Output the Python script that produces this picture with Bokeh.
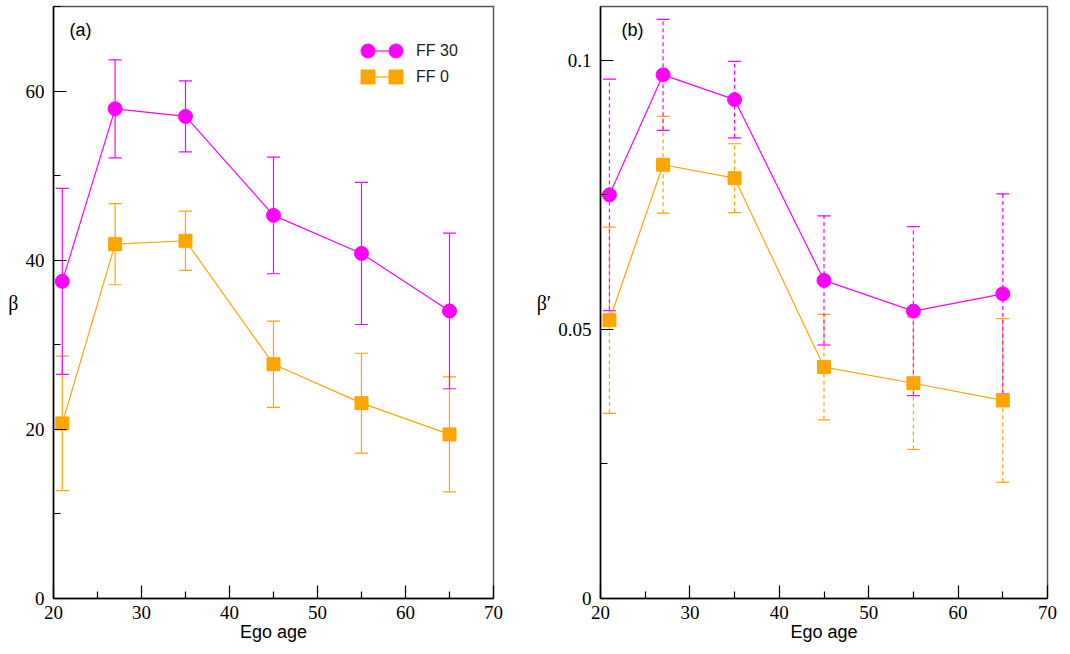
from bokeh.plotting import figure
from bokeh.layouts import row
from bokeh.models import (ColumnDataSource, Whisker, TeeHead, FixedTicker, Legend,
                          LegendItem, Label, Range1d)
from bokeh.embed import file_html
from bokeh.resources import INLINE

# ---------------- data ----------------
ages = [21, 27, 35, 45, 55, 65]

# panel (a): beta
a_ff30 = [37.5, 57.9, 57.0, 45.3, 40.8, 34.0]
a_ff30_err = [11.0, 5.8, 4.2, 6.9, 8.4, 9.2]
a_ff0 = [20.7, 41.9, 42.3, 27.7, 23.1, 19.4]
a_ff0_err = [7.95, 4.8, 3.5, 5.1, 5.9, 6.8]

# panel (b): beta'
b_ff30 = [0.0750, 0.0973, 0.0927, 0.0591, 0.0534, 0.0566]
b_ff30_err = [0.0215, 0.0103, 0.0071, 0.0120, 0.0157, 0.0186]
b_ff0 = [0.0517, 0.0806, 0.0781, 0.0430, 0.0400, 0.0368]
b_ff0_err = [0.0173, 0.0090, 0.0064, 0.0098, 0.0123, 0.0152]

x_major = [20, 30, 40, 50, 60, 70]
x_minor = [25, 35, 45, 55, 65]
a_y_major = [0, 20, 40, 60]
a_y_minor = [10, 30, 50, 70]
b_y_major = [0, 0.05, 0.1]
b_y_minor = [0.025, 0.075]
b_y_labels = {0: "0", 0.05: "0.05", 0.1: "0.1"}

series_labels = ["FF 30", "FF 0"]

MAGENTA = "#ff00ff"
ORANGE = "#ffa500"
SERIF = "Liberation Serif"
SANS = "Liberation Sans"


def style_axes(p, yticks, yminor, ylabel):
    p.xaxis.ticker = FixedTicker(ticks=x_major, minor_ticks=x_minor)
    p.yaxis.ticker = FixedTicker(ticks=yticks, minor_ticks=yminor)
    for ax in (p.xaxis[0], p.yaxis[0]):
        ax.major_tick_in = 13
        ax.major_tick_out = 0
        ax.minor_tick_in = 7
        ax.minor_tick_out = 0
        ax.axis_line_width = 1.5
        ax.axis_line_color = "black"
        ax.major_tick_line_color = "black"
        ax.minor_tick_line_color = "black"
        ax.major_tick_line_width = 1.2
        ax.minor_tick_line_width = 1.2
        ax.major_label_text_font = SERIF
        ax.major_label_text_font_size = "19px"
        ax.major_label_text_color = "black"
    p.xaxis.axis_label = "Ego age"
    p.xaxis.axis_label_text_font = SANS
    p.xaxis.axis_label_text_font_size = "18px"
    p.xaxis.axis_label_text_font_style = "normal"
    p.xaxis.axis_label_text_color = "black"
    p.xaxis.major_label_standoff = 7
    p.xaxis.axis_label_standoff = 0
    p.yaxis.axis_label = ylabel
    p.yaxis.axis_label_orientation = "horizontal"
    p.yaxis.axis_label_text_font = SERIF
    p.yaxis.axis_label_text_font_size = "20px"
    p.yaxis.axis_label_text_font_style = "normal"
    p.yaxis.axis_label_text_color = "black"
    p.yaxis.major_label_standoff = 9
    p.yaxis.axis_label_standoff = 4
    p.grid.visible = False
    p.outline_line_color = "#555555"
    p.outline_line_width = 1.5


def add_series(p, vals, errs, color, marker, size, dash):
    src = ColumnDataSource(dict(
        x=ages,
        y=vals,
        upper=[v + e for v, e in zip(vals, errs)],
        lower=[v - e for v, e in zip(vals, errs)],
    ))
    w = Whisker(source=src, base="x", upper="upper", lower="lower",
                line_color=color, line_width=1.2, line_dash=dash,
                upper_head=TeeHead(size=13, line_color=color, line_width=1.2),
                lower_head=TeeHead(size=13, line_color=color, line_width=1.2),
                level="underlay")
    p.add_layout(w)
    ln = p.line("x", "y", source=src, line_color=color, line_width=1.2)
    sc = p.scatter("x", "y", source=src, marker=marker, size=size,
                   fill_color=color, line_color=color)
    return ln, sc


def legend_piece(label, renderers, x_off, y_off, gw, standoff=0):
    return Legend(items=[LegendItem(label=label, renderers=renderers)],
                  location=(x_off, y_off), glyph_width=gw, glyph_height=35,
                  label_standoff=standoff, padding=0, margin=0, border_line_color=None,
                  background_fill_alpha=0, label_text_font=SANS,
                  label_text_font_size="16px", label_text_color="#222222")


def add_legend_row(p, label, line_r, marker_r, y_off):
    # connecting line between the two markers, then a marker at each end
    p.add_layout(legend_piece("", [line_r], 315, y_off, 28))
    p.add_layout(legend_piece("", [marker_r], 297, y_off, 35))
    p.add_layout(legend_piece(label, [marker_r], 325, y_off, 35, standoff=3))


# ---------------- panel (a) ----------------
pa = figure(width=533, height=650, x_range=Range1d(20, 70), y_range=Range1d(0, 70),
            output_backend="svg", toolbar_location=None,
            min_border_left=53, min_border_right=40, min_border_top=6, min_border_bottom=52)
style_axes(pa, a_y_major, a_y_minor, "β")
l0, s0 = add_series(pa, a_ff0, a_ff0_err, ORANGE, "square", 13, "solid")
l1, s1 = add_series(pa, a_ff30, a_ff30_err, MAGENTA, "circle", 14, "solid")
pa.add_layout(Label(x=16, y=569, x_units="screen", y_units="screen", text="(a)",
                    text_font=SANS, text_font_size="18px", text_baseline="middle",
                    text_color="black"))
add_legend_row(pa, series_labels[0], l1, s1, 530)
add_legend_row(pa, series_labels[1], l0, s0, 504)

# ---------------- panel (b) ----------------
pb = figure(width=524, height=650, x_range=Range1d(20, 70), y_range=Range1d(0, 0.11),
            output_backend="svg", toolbar_location=None,
            min_border_left=66, min_border_right=10, min_border_top=6, min_border_bottom=52)
style_axes(pb, b_y_major, b_y_minor, "β′")
pb.yaxis.major_label_overrides = b_y_labels
add_series(pb, b_ff0, b_ff0_err, ORANGE, "square", 13, "4 3")
add_series(pb, b_ff30, b_ff30_err, MAGENTA, "circle", 14, "4 3")
pb.add_layout(Label(x=21, y=569, x_units="screen", y_units="screen", text="(b)",
                    text_font=SANS, text_font_size="18px", text_baseline="middle",
                    text_color="black"))

layout = row(pa, pb)
open("out.html", "w").write(file_html(layout, INLINE))
